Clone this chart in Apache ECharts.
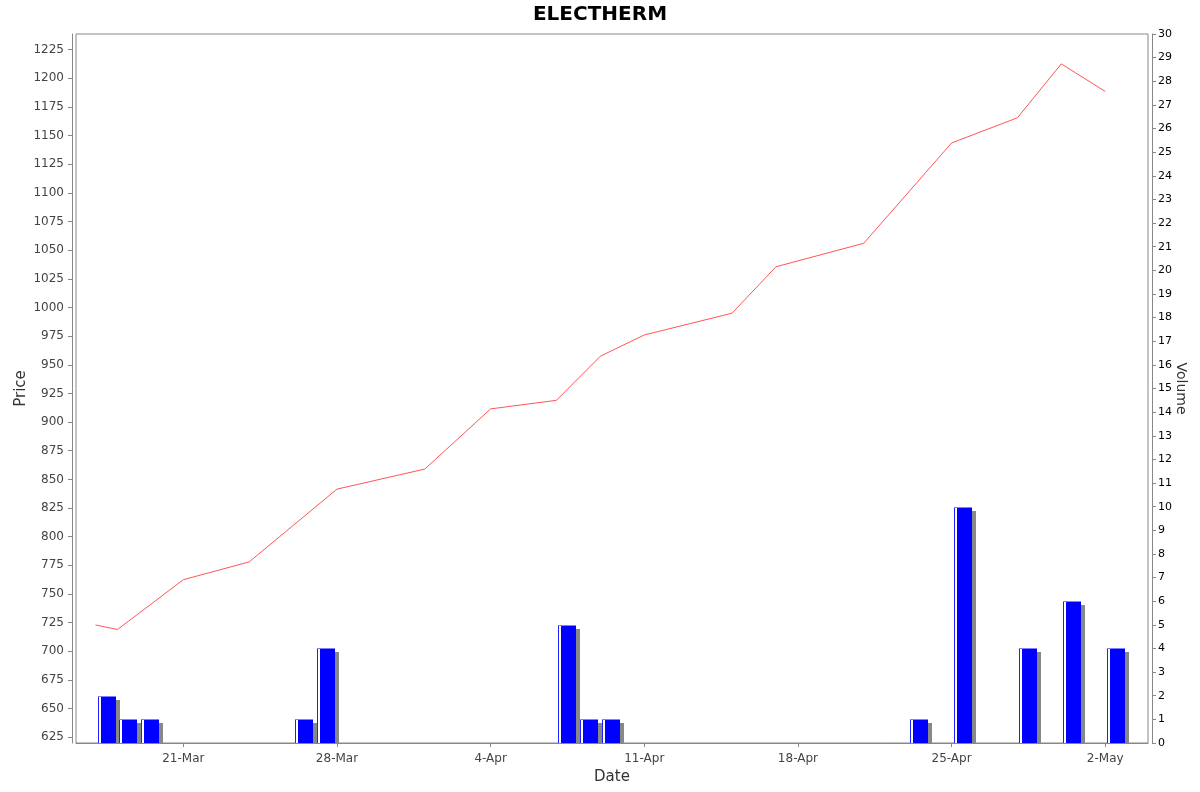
<!DOCTYPE html>
<html lang="en">
<head>
    <meta charset="UTF-8">
    <title>ELECTHERM</title>
    <script src="https://cdn.jsdelivr.net/npm/echarts@6/dist/echarts.min.js"></script>
    <style>
        html, body { margin: 0; padding: 0; background: #fff; }
        #main { width: 1200px; height: 792px; }
    </style>
</head>
<body>
<div id="main"></div>
<script>
    // price line (closing price)
    var priceDates = ['2022-03-17', '2022-03-18', '2022-03-21', '2022-03-24', '2022-03-28',
        '2022-04-01', '2022-04-04', '2022-04-07', '2022-04-09', '2022-04-11', '2022-04-15',
        '2022-04-17', '2022-04-21', '2022-04-25', '2022-04-28', '2022-04-30', '2022-05-02'];
    var prices = [723, 719, 762.5, 778, 841.5, 859, 911.5, 919, 957.5, 976, 995,
        1035.5, 1056, 1143.5, 1165.5, 1212.5, 1188.5];

    // volume bars
    var volDates = ['2022-03-17', '2022-03-18', '2022-03-19', '2022-03-26', '2022-03-27',
        '2022-04-07', '2022-04-08', '2022-04-09', '2022-04-23', '2022-04-25',
        '2022-04-28', '2022-04-30', '2022-05-02'];
    var volumes = [2, 1, 1, 1, 4, 5, 1, 1, 1, 10, 4, 6, 4];

    // axis ticks
    var dateTicks = ['2022-03-21', '2022-03-28', '2022-04-04', '2022-04-11',
        '2022-04-18', '2022-04-25', '2022-05-02'];
    var priceTicks = [625, 650, 675, 700, 725, 750, 775, 800, 825, 850, 875, 900, 925,
        950, 975, 1000, 1025, 1050, 1075, 1100, 1125, 1150, 1175, 1200, 1225];

    var DAY = 24 * 3600 * 1000;
    var MONTHS = ['Jan','Feb','Mar','Apr','May','Jun','Jul','Aug','Sep','Oct','Nov','Dec'];
    function ts(s) {
        var p = s.split('-');
        return Date.UTC(+p[0], +p[1] - 1, +p[2]);
    }
    function fmtDate(v) {
        var d = new Date(v);
        return d.getUTCDate() + '-' + MONTHS[d.getUTCMonth()];
    }

    var lineData = priceDates.map(function (d, i) { return [ts(d), prices[i]]; });
    // bars sit half a day after their date
    var barData = volDates.map(function (d, i) { return [ts(d) + DAY / 2, volumes[i]]; });

    // bar with a thin left stripe and a grey drop shadow
    function renderBar(params, api) {
        var top = api.coord([api.value(0), api.value(1)]);
        var base = api.coord([api.value(0), 0]);
        var w = 18;
        var x0 = Math.round(top[0] - w / 2);
        var y0 = Math.round(top[1]);
        var h = Math.round(base[1]) - y0;
        return {
            type: 'group',
            children: [
                { type: 'rect', shape: { x: x0 + 4, y: y0 + 4, width: w, height: h - 4 },
                  style: { fill: '#888888', stroke: null } },
                { type: 'rect', shape: { x: x0, y: y0, width: w, height: h },
                  style: { fill: '#ffffff', stroke: null } },
                { type: 'rect', shape: { x: x0, y: y0, width: 1, height: h },
                  style: { fill: '#2020ff', stroke: null } },
                { type: 'rect', shape: { x: x0 + 3, y: y0, width: w - 3, height: h },
                  style: { fill: '#0000ff', stroke: null } },
                { type: 'rect', shape: { x: x0, y: y0, width: w, height: 1 },
                  style: { fill: '#8080ff', stroke: null } }
            ]
        };
    }

    var font = 'DejaVu Sans';
    var chart = echarts.init(document.getElementById('main'));
    chart.setOption({
        animation: false,
        backgroundColor: '#ffffff',
        title: {
            text: 'ELECTHERM',
            left: 'center',
            top: 0,
            textStyle: { fontFamily: font, fontSize: 20, fontWeight: 'bold', color: '#000' }
        },
        grid: {
            left: 76, right: 52, top: 34, bottom: 49,
            outerBoundsMode: 'none',
            containLabel: false,
            show: true, borderColor: '#888', borderWidth: 1, backgroundColor: '#fff'
        },
        xAxis: {
            type: 'value',
            min: ts('2022-03-21') - 4.89 * DAY,
            max: ts('2022-05-02') + 1.95 * DAY,
            offset: 4,
            name: 'Date',
            nameLocation: 'middle',
            nameGap: 23,
            nameMoveOverlap: false,
            nameTextStyle: { fontFamily: font, fontSize: 15, color: '#333' },
            splitLine: { show: false },
            axisLine: { lineStyle: { color: '#888' } },
            axisTick: { length: 4, lineStyle: { color: '#888' }, customValues: dateTicks.map(ts) },
            axisLabel: {
                customValues: dateTicks.map(ts),
                formatter: fmtDate,
                fontFamily: font, fontSize: 12, color: '#444', margin: 6
            }
        },
        yAxis: [{
            type: 'value',
            position: 'left',
            min: 620,
            max: 1238.6,
            offset: 4,
            name: 'Price',
            nameLocation: 'middle',
            nameGap: 43,
            nameMoveOverlap: false,
            nameTextStyle: { fontFamily: font, fontSize: 15, color: '#333' },
            splitLine: { show: false },
            axisLine: { show: true, lineStyle: { color: '#888' } },
            axisTick: { show: true, length: 4, lineStyle: { color: '#888' }, customValues: priceTicks },
            axisLabel: {
                customValues: priceTicks,
                formatter: function (v) { return String(v); },
                fontFamily: font, fontSize: 12, color: '#444', margin: 8
            }
        }, {
            type: 'value',
            position: 'right',
            min: 0,
            max: 30,
            interval: 1,
            offset: 4,
            name: 'Volume',
            nameLocation: 'middle',
            nameRotate: -90,
            nameGap: 22,
            nameMoveOverlap: false,
            nameTextStyle: { fontFamily: font, fontSize: 14, color: '#333' },
            splitLine: { show: false },
            axisLine: { show: true, lineStyle: { color: '#888' } },
            axisTick: { show: true, length: 4, lineStyle: { color: '#888' } },
            axisLabel: { fontFamily: font, fontSize: 11, color: '#000', margin: 6 }
        }],
        series: [{
            name: 'Volume',
            type: 'custom',
            yAxisIndex: 1,
            data: barData,
            encode: { x: 0, y: 1 },
            renderItem: renderBar,
            clip: true,
            z: 2
        }, {
            name: 'Price',
            type: 'line',
            yAxisIndex: 0,
            data: lineData,
            symbol: 'none',
            lineStyle: { color: '#ff5555', width: 1 },
            z: 3
        }]
    });
</script>
</body>
</html>
